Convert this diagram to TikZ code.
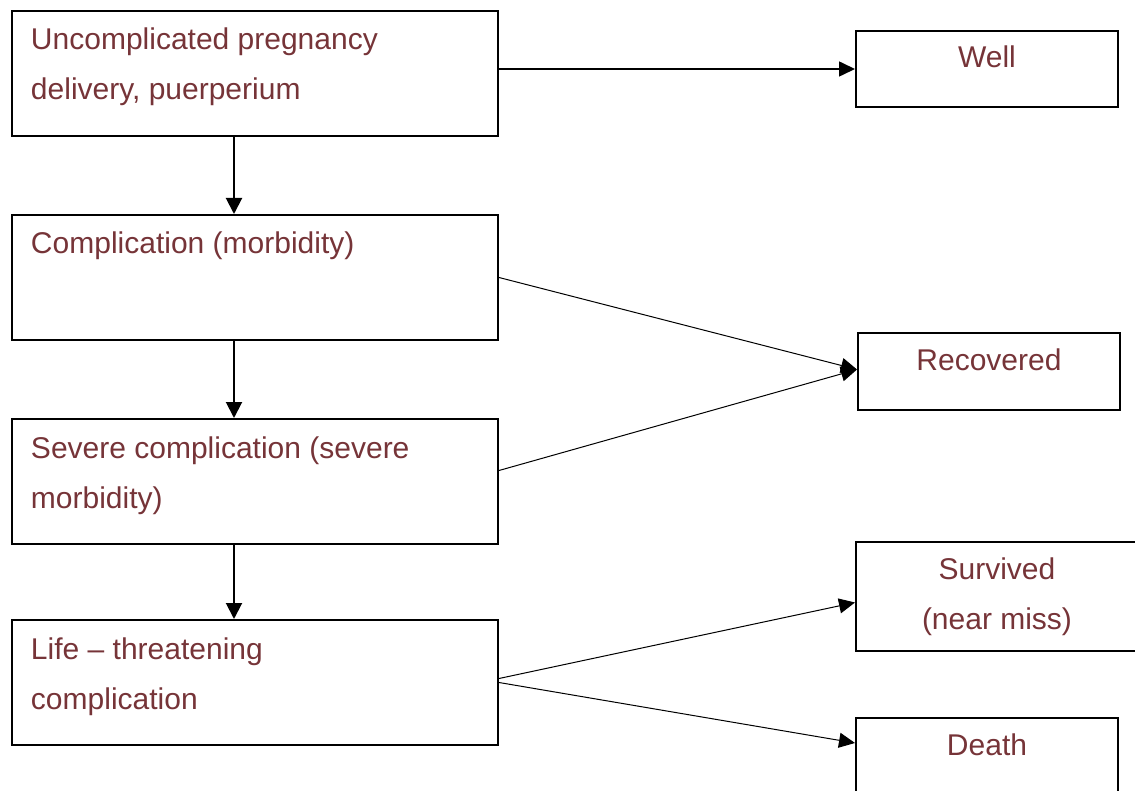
\documentclass[tikz,border=0pt]{standalone}
\usepackage{fontspec}
\setmainfont{Liberation Sans}
\usetikzlibrary{arrows.meta}
\definecolor{xMaroon}{RGB}{118,52,56}
\newcommand{\Lt}[1]{\parbox[c][58.5pt][t]{224pt}{\raggedright\strut #1}}
\newcommand{\Rt}[3]{\parbox[c][#2][t]{#1}{\centering\strut #3}}
\tikzset{
  stage/.style={draw, line width=1pt, anchor=north west, inner xsep=9.5pt, inner ysep=2pt,
                text=xMaroon, font=\fontsize{15pt}{25pt}\selectfont},
  outcome/.style={draw, line width=1pt, anchor=north west, inner xsep=0pt, inner ysep=1pt,
                text=xMaroon, font=\fontsize{15pt}{25pt}\selectfont},
  down/.style={-{Triangle[length=8pt,width=8pt]}, line width=1pt},
  side/.style={-{Triangle[length=8pt,width=7.5pt]}, line width=0.8pt},
  fine/.style={-{Triangle[length=8pt,width=7.5pt]}, line width=0.5pt},
}

\begin{document}
\begin{tikzpicture}[x=0.5pt, y=-0.5pt]
    \useasboundingbox (0,0) rectangle (1135,791);
    % stages of the pathway
    \node[stage] (a) at (11,10)  {\Lt{Uncomplicated pregnancy\\delivery, puerperium}};
    \node[stage] (b) at (11,214) {\Lt{Complication (morbidity)}};
    \node[stage] (c) at (11,418) {\Lt{Severe complication (severe\\morbidity)}};
    \node[stage] (d) at (11,619) {\Lt{Life -- threatening\\complication}};
    % outcomes
    \node[outcome] (w) at (855,30)  {\Rt{131pt}{36pt}{Well}};
    \node[outcome] (r) at (857,332) {\Rt{131pt}{36.5pt}{Recovered}};
    \node[outcome] (s) at (855,541) {\Rt{141pt}{52.5pt}{Survived\\(near miss)}};
    \node[outcome] (x) at (855,717) {\Rt{131pt}{36pt}{Death}};
    \draw[down] ([xshift=-10.5pt]a.south) -- ([xshift=-10.5pt]b.north);
    \draw[down] ([xshift=-10.5pt]b.south) -- ([xshift=-10.5pt]c.north);
    \draw[down] ([xshift=-10.5pt]c.south) -- ([xshift=-10.5pt]d.north);
    \draw[side] (a.east |- w.west) -- (w.west);
    \draw[fine] (b.east) -- ([yshift=1pt]r.west);
    \draw[fine] ([yshift=5.5pt]c.east) -- ([yshift=1pt]r.west);
    \draw[fine] ([yshift=2pt]d.east) -- ([yshift=-3pt]s.west);
    \draw[fine] (d.east) -- ([yshift=6.5pt]x.west);
  \end{tikzpicture}
\end{document}
